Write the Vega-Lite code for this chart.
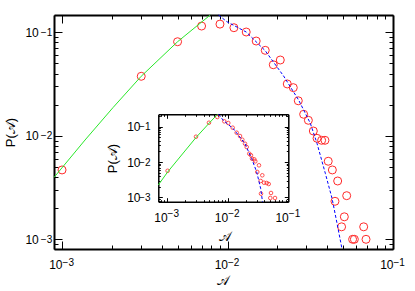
{
  "$schema": "https://vega.github.io/schema/vega-lite/v6.json",
  "width": 339,
  "height": 234,
  "autosize": "none",
  "padding": {"left": 54, "top": 15, "right": 22, "bottom": 42},
  "background": "white",
  "config": {
    "view": {"stroke": null},
    "axis": {
      "grid": false,
      "labelFont": "Liberation Sans",
      "titleFont": "Liberation Sans",
      "labelFontSize": 12,
      "titleFontSize": 13,
      "titleFontWeight": "normal",
      "labelColor": "black",
      "titleColor": "black",
      "tickColor": "black",
      "domainColor": "black",
      "tickWidth": 1,
      "labelOverlap": false,
      "labelFlush": false
    }
  },
  "datasets": {
    "main": [
      {"x": 0.001, "y": 0.00468}, {"x": 0.00301, "y": 0.0376}, {"x": 0.00499, "y": 0.0811},
      {"x": 0.00697, "y": 0.115}, {"x": 0.009, "y": 0.12}, {"x": 0.01093, "y": 0.1108},
      {"x": 0.01297, "y": 0.1007}, {"x": 0.0149, "y": 0.0824}, {"x": 0.0169, "y": 0.067},
      {"x": 0.0189, "y": 0.0486}, {"x": 0.02084, "y": 0.054}, {"x": 0.02296, "y": 0.0317},
      {"x": 0.02497, "y": 0.0292}, {"x": 0.02677, "y": 0.0218}, {"x": 0.02884, "y": 0.01614},
      {"x": 0.0308, "y": 0.01412}, {"x": 0.033, "y": 0.01113}, {"x": 0.03475, "y": 0.00946},
      {"x": 0.03704, "y": 0.00905}, {"x": 0.0388, "y": 0.00905}, {"x": 0.0406, "y": 0.00568},
      {"x": 0.043, "y": 0.00468}, {"x": 0.0463, "y": 0.00366}, {"x": 0.0525, "y": 0.00264},
      {"x": 0.0446, "y": 0.00233}, {"x": 0.0508, "y": 0.00165}, {"x": 0.0489, "y": 0.00132},
      {"x": 0.0665, "y": 0.00132}, {"x": 0.057, "y": 0.001}, {"x": 0.0584, "y": 0.001},
      {"x": 0.0687, "y": 0.001}
    ],
    "mainGreen": [
      {"x": 0.000895, "y": 0.00397}, {"x": 0.001377, "y": 0.00911}, {"x": 0.002034, "y": 0.01877},
      {"x": 0.003008, "y": 0.0376}, {"x": 0.00499, "y": 0.0811}, {"x": 0.00786, "y": 0.1469}
    ],
    "mainBlue": [
      {"x": 0.008824, "y": 0.1469}, {"x": 0.009917, "y": 0.1266}, {"x": 0.01297, "y": 0.1007},
      {"x": 0.0169, "y": 0.0664}, {"x": 0.02182, "y": 0.03783}, {"x": 0.02689, "y": 0.02218},
      {"x": 0.03165, "y": 0.01321}, {"x": 0.03473, "y": 0.008464}, {"x": 0.03899, "y": 0.004342},
      {"x": 0.04281, "y": 0.002489}, {"x": 0.04589, "y": 0.001428}, {"x": 0.0492, "y": 0.000806}
    ],
    "inset": [
      {"x": 0.00102, "y": 0.00565}, {"x": 0.003, "y": 0.0516}, {"x": 0.00491, "y": 0.128},
      {"x": 0.00674, "y": 0.1854}, {"x": 0.00879, "y": 0.1401}, {"x": 0.01023, "y": 0.1255},
      {"x": 0.01209, "y": 0.0925}, {"x": 0.01408, "y": 0.0669}, {"x": 0.01596, "y": 0.054},
      {"x": 0.01742, "y": 0.0425}, {"x": 0.0193, "y": 0.0328}, {"x": 0.02058, "y": 0.02646},
      {"x": 0.0227, "y": 0.01714}, {"x": 0.02424, "y": 0.01545}, {"x": 0.02518, "y": 0.0124},
      {"x": 0.02748, "y": 0.01191}, {"x": 0.02853, "y": 0.01046}, {"x": 0.03284, "y": 0.00807},
      {"x": 0.03078, "y": 0.00523}, {"x": 0.03724, "y": 0.00422}, {"x": 0.03504, "y": 0.00292},
      {"x": 0.03972, "y": 0.00261}, {"x": 0.044, "y": 0.00256}, {"x": 0.04748, "y": 0.0024},
      {"x": 0.03543, "y": 0.00128}, {"x": 0.05183, "y": 0.00134}, {"x": 0.05047, "y": 0.000968},
      {"x": 0.06032, "y": 0.000968}
    ],
    "insetGreen": [
      {"x": 0.000716, "y": 0.002249}, {"x": 0.00102, "y": 0.00522}, {"x": 0.003, "y": 0.049},
      {"x": 0.00497, "y": 0.1256}, {"x": 0.00679, "y": 0.221}
    ],
    "insetBlue": [
      {"x": 0.00705, "y": 0.221}, {"x": 0.00846, "y": 0.1495}, {"x": 0.01237, "y": 0.0867},
      {"x": 0.0193, "y": 0.0328}, {"x": 0.02489, "y": 0.0124}, {"x": 0.0301, "y": 0.00523},
      {"x": 0.03504, "y": 0.00177}, {"x": 0.03752, "y": 0.000761}
    ]
  },
  "layer": [
    {
      "data": {"name": "main"},
      "mark": {"type": "point", "shape": "circle", "filled": false, "color": "#ff2a2a", "size": 64, "strokeWidth": 1, "opacity": 1},
      "encoding": {
        "x": {"field": "x", "type": "quantitative",
          "scale": {"type": "log", "domain": [0.000894, 0.1], "nice": false},
          "axis": {"orient": "bottom", "values": [0.001, 0.01, 0.1], "labelExpr": "'10'", "tickSize": -8,
            "labelAlign": "right", "labelBaseline": "top", "labelPadding": 18.5, "labelDx": 0.5, "domainWidth": 2,
            "title": "𝒜", "titleX": 168.5, "titleY": 31, "titleBaseline": "middle", "titleAlign": "center", "titleAngle": 0}},
        "y": {"field": "y", "type": "quantitative",
          "scale": {"type": "log", "domain": [0.000806, 0.147], "nice": false},
          "axis": {"orient": "left", "values": [0.001, 0.01, 0.1], "labelExpr": "'10'", "tickSize": -8,
            "labelAlign": "right", "labelBaseline": "middle", "labelPadding": 23.7, "labelDy": 1, "domainWidth": 2,
            "title": "P(𝒜)", "titleX": -44, "titleY": 117, "titleAngle": -90, "titleBaseline": "middle", "titleAlign": "center"}}
      }
    },
    {
      "data": {"name": "main"},
      "mark": {"type": "point", "opacity": 0},
      "encoding": {
        "x": {"field": "x", "type": "quantitative",
          "scale": {"type": "log", "domain": [0.000894, 0.1], "nice": false},
          "axis": {"orient": "bottom", "labels": false, "domain": false, "title": null, "tickSize": -4,
            "values": [0.0009,0.002,0.003,0.004,0.005,0.006,0.007,0.008,0.009,0.02,0.03,0.04,0.05,0.06,0.07,0.08,0.09]}},
        "y": {"field": "y", "type": "quantitative",
          "scale": {"type": "log", "domain": [0.000806, 0.147], "nice": false},
          "axis": {"orient": "left", "labels": false, "domain": false, "title": null, "tickSize": -4,
            "values": [0.0009,0.002,0.003,0.004,0.005,0.006,0.007,0.008,0.009,0.02,0.03,0.04,0.05,0.06,0.07,0.08,0.09]}}
      }
    },
    {
      "data": {"name": "main"},
      "mark": {"type": "point", "opacity": 0},
      "encoding": {
        "x": {"field": "x", "type": "quantitative",
          "scale": {"type": "log", "domain": [0.000894, 0.1], "nice": false},
          "axis": {"orient": "top", "labels": false, "domain": false, "title": null, "tickSize": -4,
            "values": [0.0009,0.002,0.003,0.004,0.005,0.006,0.007,0.008,0.009,0.02,0.03,0.04,0.05,0.06,0.07,0.08,0.09]}},
        "y": {"field": "y", "type": "quantitative",
          "scale": {"type": "log", "domain": [0.000806, 0.147], "nice": false},
          "axis": {"orient": "right", "labels": false, "domain": false, "title": null, "tickSize": -4,
            "values": [0.0009,0.002,0.003,0.004,0.005,0.006,0.007,0.008,0.009,0.02,0.03,0.04,0.05,0.06,0.07,0.08,0.09]}}
      }
    },
    {
      "data": {"name": "mainGreen"},
      "mark": {"type": "line", "color": "#2ae82a", "strokeWidth": 1},
      "encoding": {
        "x": {"field": "x", "type": "quantitative",
          "scale": {"type": "log", "domain": [0.000894, 0.1], "nice": false},
          "axis": {"orient": "top", "labels": false, "title": null, "values": [0.001, 0.01, 0.1], "tickSize": -8, "domainWidth": 2}},
        "y": {"field": "y", "type": "quantitative",
          "scale": {"type": "log", "domain": [0.000806, 0.147], "nice": false},
          "axis": {"orient": "right", "labels": false, "title": null, "values": [0.001, 0.01, 0.1], "tickSize": -8, "domainWidth": 2}}
      }
    },
    {
      "data": {"name": "mainBlue"},
      "mark": {"type": "line", "color": "#0000ff", "strokeWidth": 1, "strokeDash": [3, 2]},
      "encoding": {
        "x": {"field": "x", "type": "quantitative",
          "scale": {"type": "log", "domain": [0.000894, 0.1], "nice": false},
          "axis": {"orient": "bottom", "values": [0.001, 0.01, 0.1], "ticks": false, "tickSize": 0, "domain": false, "title": null,
            "labelExpr": "datum.value == 0.001 ? '−3' : datum.value == 0.01 ? '−2' : '−1'",
            "labelFontSize": 10, "labelAlign": "left", "labelBaseline": "top", "labelPadding": 8, "labelDx": 1.5}},
        "y": {"field": "y", "type": "quantitative",
          "scale": {"type": "log", "domain": [0.000806, 0.147], "nice": false},
          "axis": {"orient": "left", "values": [0.001, 0.01, 0.1], "ticks": false, "tickSize": 0, "domain": false, "title": null,
            "labelExpr": "datum.value == 0.001 ? '−3' : datum.value == 0.01 ? '−2' : '−1'",
            "labelFontSize": 10, "labelAlign": "right", "labelBaseline": "middle", "labelPadding": 2.3, "labelDy": -3.5}}
      }
    },
    {
      "data": {"name": "inset"},
      "mark": {"type": "point", "shape": "circle", "filled": false, "color": "#ff2a2a", "size": 13, "strokeWidth": 0.8, "opacity": 1},
      "encoding": {
        "x": {"field": "x", "type": "quantitative",
          "scale": {"type": "log", "domain": [0.000716, 0.1], "range": [104.3, 234.3], "nice": false},
          "axis": {"orient": "bottom", "offset": -47.3, "values": [0.001, 0.01, 0.1], "labelExpr": "'10'", "tickSize": -4,
            "labelAlign": "right", "labelBaseline": "top", "labelPadding": 15.1, "labelDx": 1, "domainWidth": 1.5,
            "title": "𝒜", "titleX": 170, "titleY": 34.3, "titleBaseline": "middle", "titleAlign": "center", "titleAngle": 0}},
        "y": {"field": "y", "type": "quantitative",
          "scale": {"type": "log", "domain": [0.000761, 0.221], "range": [186.7, 99.3], "nice": false},
          "axis": {"orient": "left", "offset": -104.3, "values": [0.001, 0.01, 0.1], "labelExpr": "'10'", "tickSize": -4,
            "labelAlign": "right", "labelBaseline": "middle", "labelPadding": 22.3, "labelDy": 1, "domainWidth": 1.5,
            "title": "P(𝒜)", "titleX": -45.8, "titleY": 143, "titleAngle": -90, "titleBaseline": "middle", "titleAlign": "center"}}
      }
    },
    {
      "data": {"name": "inset"},
      "mark": {"type": "point", "opacity": 0},
      "encoding": {
        "x": {"field": "x", "type": "quantitative",
          "scale": {"type": "log", "domain": [0.000716, 0.1], "range": [104.3, 234.3], "nice": false},
          "axis": {"orient": "bottom", "offset": -47.3, "labels": false, "domain": false, "title": null, "tickSize": -2,
            "values": [0.0008,0.0009,0.002,0.003,0.004,0.005,0.006,0.007,0.008,0.009,0.02,0.03,0.04,0.05,0.06,0.07,0.08,0.09]}},
        "y": {"field": "y", "type": "quantitative",
          "scale": {"type": "log", "domain": [0.000761, 0.221], "range": [186.7, 99.3], "nice": false},
          "axis": {"orient": "left", "offset": -104.3, "labels": false, "domain": false, "title": null, "tickSize": -2,
            "values": [0.0008,0.0009,0.002,0.003,0.004,0.005,0.006,0.007,0.008,0.009,0.02,0.03,0.04,0.05,0.06,0.07,0.08,0.09,0.2]}}
      }
    },
    {
      "data": {"name": "inset"},
      "mark": {"type": "point", "opacity": 0},
      "encoding": {
        "x": {"field": "x", "type": "quantitative",
          "scale": {"type": "log", "domain": [0.000716, 0.1], "range": [104.3, 234.3], "nice": false},
          "axis": {"orient": "top", "offset": -99.3, "labels": false, "domain": false, "title": null, "tickSize": -2,
            "values": [0.0008,0.0009,0.002,0.003,0.004,0.005,0.006,0.007,0.008,0.009,0.02,0.03,0.04,0.05,0.06,0.07,0.08,0.09]}},
        "y": {"field": "y", "type": "quantitative",
          "scale": {"type": "log", "domain": [0.000761, 0.221], "range": [186.7, 99.3], "nice": false},
          "axis": {"orient": "right", "offset": -104.7, "labels": false, "domain": false, "title": null, "tickSize": -2,
            "values": [0.0008,0.0009,0.002,0.003,0.004,0.005,0.006,0.007,0.008,0.009,0.02,0.03,0.04,0.05,0.06,0.07,0.08,0.09,0.2]}}
      }
    },
    {
      "data": {"name": "insetGreen"},
      "mark": {"type": "line", "color": "#2ae82a", "strokeWidth": 1},
      "encoding": {
        "x": {"field": "x", "type": "quantitative",
          "scale": {"type": "log", "domain": [0.000716, 0.1], "range": [104.3, 234.3], "nice": false},
          "axis": {"orient": "top", "offset": -99.3, "labels": false, "title": null, "values": [0.001, 0.01, 0.1], "tickSize": -4, "domainWidth": 1.5}},
        "y": {"field": "y", "type": "quantitative",
          "scale": {"type": "log", "domain": [0.000761, 0.221], "range": [186.7, 99.3], "nice": false},
          "axis": {"orient": "right", "offset": -104.7, "labels": false, "title": null, "values": [0.001, 0.01, 0.1], "tickSize": -4, "domainWidth": 1.5}}
      }
    },
    {
      "data": {"name": "insetBlue"},
      "mark": {"type": "line", "color": "#0000ff", "strokeWidth": 1, "strokeDash": [3, 2]},
      "encoding": {
        "x": {"field": "x", "type": "quantitative",
          "scale": {"type": "log", "domain": [0.000716, 0.1], "range": [104.3, 234.3], "nice": false},
          "axis": {"orient": "bottom", "offset": -47.3, "values": [0.001, 0.01, 0.1], "ticks": false, "tickSize": 0, "domain": false, "title": null,
            "labelExpr": "datum.value == 0.001 ? '−3' : datum.value == 0.01 ? '−2' : '−1'",
            "labelFontSize": 10, "labelAlign": "left", "labelBaseline": "top", "labelPadding": 6.5, "labelDx": 2}},
        "y": {"field": "y", "type": "quantitative",
          "scale": {"type": "log", "domain": [0.000761, 0.221], "range": [186.7, 99.3], "nice": false},
          "axis": {"orient": "left", "offset": -104.3, "values": [0.001, 0.01, 0.1], "ticks": false, "tickSize": 0, "domain": false, "title": null,
            "labelExpr": "datum.value == 0.001 ? '−3' : datum.value == 0.01 ? '−2' : '−1'",
            "labelFontSize": 10, "labelAlign": "right", "labelBaseline": "middle", "labelPadding": 8.3, "labelDy": -3.5}}
      }
    }
  ],
  "resolve": {
    "scale": {"x": "independent", "y": "independent"},
    "axis": {"x": "independent", "y": "independent"}
  }
}
